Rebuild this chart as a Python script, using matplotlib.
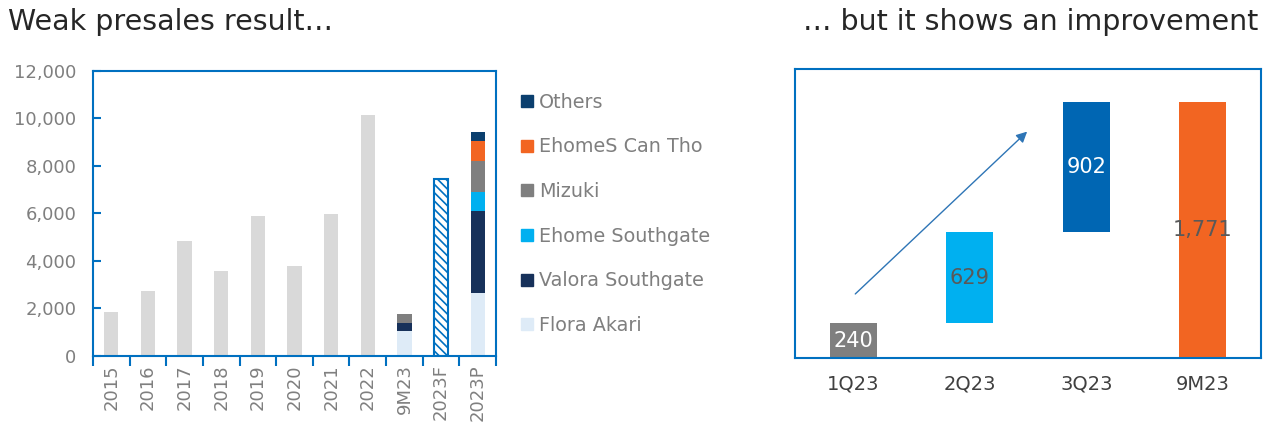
import numpy as np
import matplotlib.pyplot as plt
from matplotlib.lines import Line2D

plt.rcParams['font.family'] = ['DejaVu Sans']
plt.rcParams['hatch.linewidth'] = 1.2

# datos panel izquierdo
years = ['2015', '2016', '2017', '2018', '2019', '2020', '2021', '2022', '9M23', '2023F', '2023P']
history = [1850, 2750, 4820, 3570, 5870, 3780, 5960, 10150]
forecast_2023 = 7450

projects = ['Flora Akari', 'Valora Southgate', 'Ehome Southgate', 'Mizuki', 'EhomeS Can Tho', 'Others']
proj_colors = ['#DEEBF7', '#17315A', '#00B0F0', '#7F7F7F', '#F26522', '#0B3F6E']
# 9M23 y 2023P por proyecto
sales_9m23 = [1050, 330, 0, 390, 0, 0]
sales_2023p = [2650, 3450, 800, 1290, 840, 380]

# datos panel derecho (cascada)
quarters = ['1Q23', '2Q23', '3Q23', '9M23']
q_values = [240, 629, 902]
q_colors = ['#7F7F7F', '#00B0F0', '#0066B3', '#F26522']
q_label_colors = ['white', '#595959', 'white', '#595959']

blue = '#0070C0'
grey_txt = '#7F7F7F'

fig = plt.figure(figsize=(12.69, 4.32), dpi=100)
W, H = 1269, 432
ax1 = fig.add_axes([93 / W, (H - 356) / H, 403 / W, 285.5 / H])
ax2 = fig.add_axes([795 / W, (H - 358) / H, 466 / W, 289 / H])

# --- panel izquierdo
x = np.arange(len(years))
bw = 0.39
ax1.bar(x[:8], history, width=bw, color='#D9D9D9')
ax1.bar(x[9], forecast_2023, width=bw, color='white', edgecolor=blue,
        hatch='\\\\\\\\', linewidth=1.5)
bottom_9m = 0
bottom_p = 0
for i, name in enumerate(projects):
    if sales_9m23[i] > 0:
        ax1.bar(x[8], sales_9m23[i], bottom=bottom_9m, width=bw, color=proj_colors[i])
        bottom_9m += sales_9m23[i]
    ax1.bar(x[10], sales_2023p[i], bottom=bottom_p, width=bw, color=proj_colors[i])
    bottom_p += sales_2023p[i]

ax1.set_xlim(-0.5, len(years) - 0.5)
ax1.set_ylim(0, 12000)
ax1.set_yticks(np.arange(0, 12001, 2000))
ax1.set_yticklabels([f'{v:,}' for v in range(0, 12001, 2000)])
ax1.set_xticks(x)
ax1.set_xticklabels(years, rotation=90)
ax1.set_xticks(np.arange(-0.5, len(years)), minor=True)
ax1.tick_params(axis='x', which='major', length=0, pad=6, labelsize=13, labelcolor=grey_txt)
ax1.tick_params(axis='x', which='minor', length=7, width=1.5, color=blue, direction='out')
ax1.tick_params(axis='y', length=6, width=1.5, color=blue, direction='in',
                labelsize=13, labelcolor=grey_txt, pad=12)
for s in ax1.spines.values():
    s.set_color(blue)
    s.set_linewidth(1.5)

handles = [Line2D([], [], marker='s', linestyle='none', markersize=8,
                  color=proj_colors[i]) for i in range(len(projects))][::-1]
fig.legend(handles, projects[::-1], loc='upper left', bbox_to_anchor=(508 / W, (H - 83) / H),
           frameon=False, fontsize=13.8, labelcolor=grey_txt, handletextpad=0.1,
           labelspacing=1.34, handlelength=1.0, borderpad=0)

fig.text(8 / W, (H - 22) / H, 'Weak presales result…', fontsize=20.5, color='#262626', va='center')

# --- panel derecho
starts = np.concatenate([[0], np.cumsum(q_values)[:-1], [0]])
heights = q_values + [sum(q_values)]
xq = np.arange(len(quarters))
ax2.bar(xq, heights, bottom=starts, width=0.4, color=q_colors)
for i in range(len(quarters)):
    ax2.text(xq[i], starts[i] + heights[i] / 2, f'{heights[i]:,}', ha='center', va='center',
             fontsize=15, color=q_label_colors[i])
ax2.annotate('', xy=(1.51, 1580), xytext=(0, 430),
             arrowprops=dict(arrowstyle='-|>', color='#2E75B6', lw=1.0, mutation_scale=16))
ax2.set_xlim(-0.5, 3.5)
ax2.set_ylim(0, 2000)
ax2.set_yticks([])
ax2.set_xticks(xq)
ax2.set_xticklabels(quarters)
ax2.tick_params(axis='x', length=0, pad=12, labelsize=14, labelcolor='#404040')
for s in ax2.spines.values():
    s.set_color(blue)
    s.set_linewidth(1.5)

fig.text(1258 / W, (H - 22) / H, '… but it shows an improvement', fontsize=20.5,
         color='#262626', va='center', ha='right')

fig.savefig('out.png', dpi=100)
